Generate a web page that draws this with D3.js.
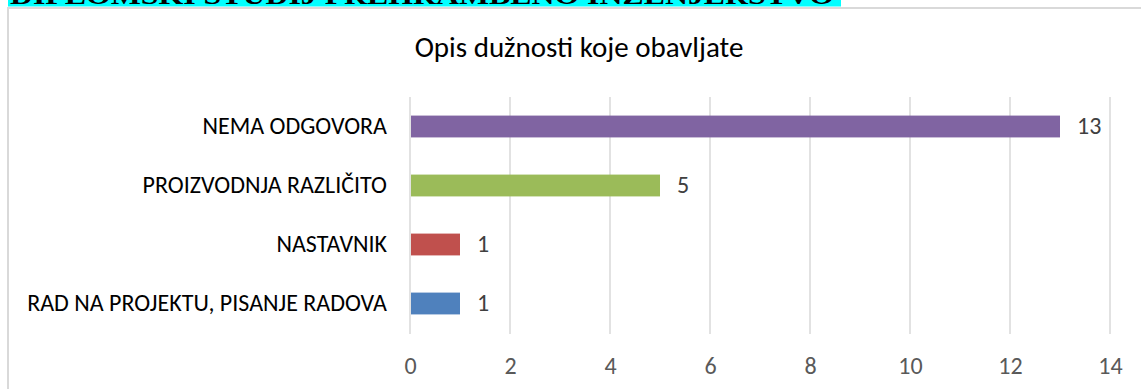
<!DOCTYPE html>
<html>
<head>
<meta charset="utf-8">
<script src="https://cdn.jsdelivr.net/npm/d3@7"></script>
<style>
  html, body { margin: 0; padding: 0; background: #fff; }
  svg { display: block; }
</style>
</head>
<body>
<svg id="chart" width="1141" height="389"></svg>
<script>
// Survey answers: description of job duties
const categories = ["NEMA ODGOVORA", "PROIZVODNJA RAZLIČITO", "NASTAVNIK", "RAD NA PROJEKTU, PISANJE RADOVA"];
const counts = [13, 5, 1, 1];
const barColors = ["#8064A2", "#9BBB59", "#C0504D", "#4F81BD"];
const tickValues = [0, 2, 4, 6, 8, 10, 12, 14];
const chartTitle = "Opis dužnosti koje obavljate";
const headingText = "DIPLOMSKI STUDIJ PREHRAMBENO INŽENJERSTVO";

const font = "Carlito, Lato, 'Open Sans', sans-serif";
const labelSize = "24px";
const svg = d3.select("#chart");

// highlighted heading line above the chart (mostly scrolled out of view)
svg.append("rect").attr("x", 8).attr("y", 0).attr("width", 833).attr("height", 6.5).attr("fill", "#00FFFF");
svg.append("text")
  .attr("x", 10).attr("y", 4)
  .attr("textLength", 824).attr("lengthAdjust", "spacingAndGlyphs")
  .style("font-family", "'Liberation Serif', 'Times New Roman', serif")
  .style("font-weight", "bold").style("font-size", "26px")
  .attr("fill", "#000")
  .text(headingText);

// chart area frame (left and top edges visible)
svg.append("line").attr("x1", 8).attr("x2", 8).attr("y1", 7.5).attr("y2", 389)
  .attr("stroke", "#d9d9d9").attr("stroke-width", 2);
svg.append("line").attr("x1", 7).attr("x2", 1141).attr("y1", 8).attr("y2", 8)
  .attr("stroke", "#d9d9d9").attr("stroke-width", 2);

const x = d3.scaleLinear().domain([0, 14]).range([410, 1110]);
const y = d3.scaleBand().domain(categories).range([97, 333])
  .paddingInner(0.63).paddingOuter(0.315);

// vertical gridlines
svg.append("g").selectAll("line").data(tickValues).join("line")
  .attr("x1", d => x(d)).attr("x2", d => x(d))
  .attr("y1", 97).attr("y2", 334)
  .attr("stroke", "#d9d9d9").attr("stroke-width", 1.5);

// bars
svg.append("g").selectAll("rect").data(categories).join("rect")
  .attr("x", x(0) + 1)
  .attr("y", d => y(d))
  .attr("width", (d, i) => x(counts[i]) - x(0) - 1)
  .attr("height", y.bandwidth())
  .attr("fill", (d, i) => barColors[i]);

// value labels
svg.append("g").selectAll("text").data(categories).join("text")
  .attr("x", (d, i) => x(counts[i]) + 17)
  .attr("y", d => y(d) + y.bandwidth() / 2)
  .attr("dy", "0.33em")
  .style("font-family", font).style("font-size", labelSize)
  .attr("fill", "#404040")
  .text((d, i) => counts[i]);

// category axis labels
svg.append("g").selectAll("text").data(categories).join("text")
  .attr("x", 387)
  .attr("y", d => y(d) + y.bandwidth() / 2)
  .attr("dy", "0.33em")
  .attr("text-anchor", "end")
  .style("font-family", font).style("font-size", labelSize)
  .attr("fill", "#000")
  .text(d => d);

// value axis
const xAxis = d3.axisBottom(x).tickValues(tickValues).tickSize(0).tickPadding(0);
const gx = svg.append("g").attr("transform", "translate(0,357)").call(xAxis);
gx.select(".domain").remove();
gx.selectAll("text")
  .style("font-family", font).style("font-size", labelSize)
  .attr("fill", "#595959").attr("dy", "0.71em");

// title
svg.append("text")
  .attr("x", 579).attr("y", 57)
  .attr("text-anchor", "middle")
  .style("font-family", font).style("font-size", "29px")
  .attr("fill", "#000")
  .text(chartTitle);
</script>
</body>
</html>
